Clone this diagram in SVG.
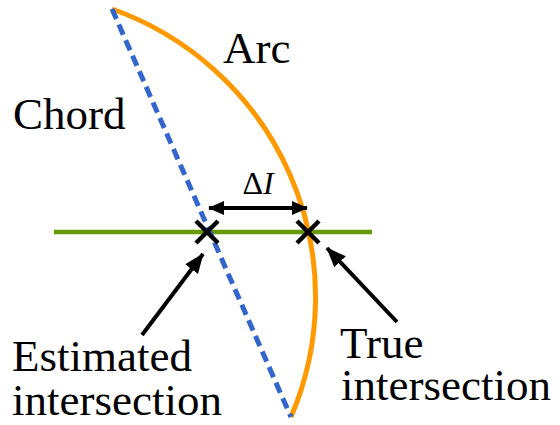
<svg xmlns="http://www.w3.org/2000/svg" width="560" height="425" viewBox="0 0 560 425">
<style>
.arr{stroke:#000;stroke-width:4;fill:none}
.x{stroke:#000;stroke-width:4.5;fill:none}
</style>
<defs>
<marker id="ah" markerUnits="userSpaceOnUse" viewBox="0 0 20 16" refX="19" refY="8" markerWidth="20" markerHeight="16" orient="auto-start-reverse">
<path d="M0,0 L20,8 L0,16 Z" fill="#000"/>
</marker>
<marker id="ahs" markerUnits="userSpaceOnUse" viewBox="0 0 16 14" refX="15" refY="7" markerWidth="16" markerHeight="14" orient="auto-start-reverse">
<path d="M0,0 L16,7 L0,14 Z" fill="#000"/>
</marker>
</defs>
<g id="curves">
<line id="level" x1="54" y1="232" x2="372" y2="232" stroke="#669900" stroke-width="4.5"/>
<path id="arc" d="M112,9 A305.5,305.5 0 0 1 291,417" fill="none" stroke="#ff9900" stroke-width="5"/>
<line id="chord" x1="112" y1="9" x2="291" y2="417" stroke="#3366cc" stroke-width="5" stroke-dasharray="11,6"/>
</g>
<g id="markers">
<path class="x" d="M196,221 L218,243 M218,221 L196,243"/>
<path class="x" d="M297,221 L319,243 M319,221 L297,243"/>
</g>
<g id="connectors">
<line class="arr" x1="209" y1="208" x2="307" y2="208" marker-start="url(#ahs)" marker-end="url(#ahs)"/>
<line class="arr" x1="142" y1="335" x2="203" y2="254" marker-end="url(#ah)"/>
<line class="arr" x1="397" y1="322" x2="327" y2="248" marker-end="url(#ah)"/>
</g>
<g id="labels" font-family="Liberation Serif, DejaVu Serif, Times New Roman, serif" fill="#000" font-size="45">
<text x="223" y="63">Arc</text>
<text x="13" y="129">Chord</text>
<text x="258" y="194" font-size="32" text-anchor="middle">Δ<tspan font-style="italic">I</tspan></text>
<text x="12" y="371">Estimated</text>
<text x="12" y="415">intersection</text>
<text x="340" y="358">True</text>
<text x="341" y="400">intersection</text>
</g>
</svg>
